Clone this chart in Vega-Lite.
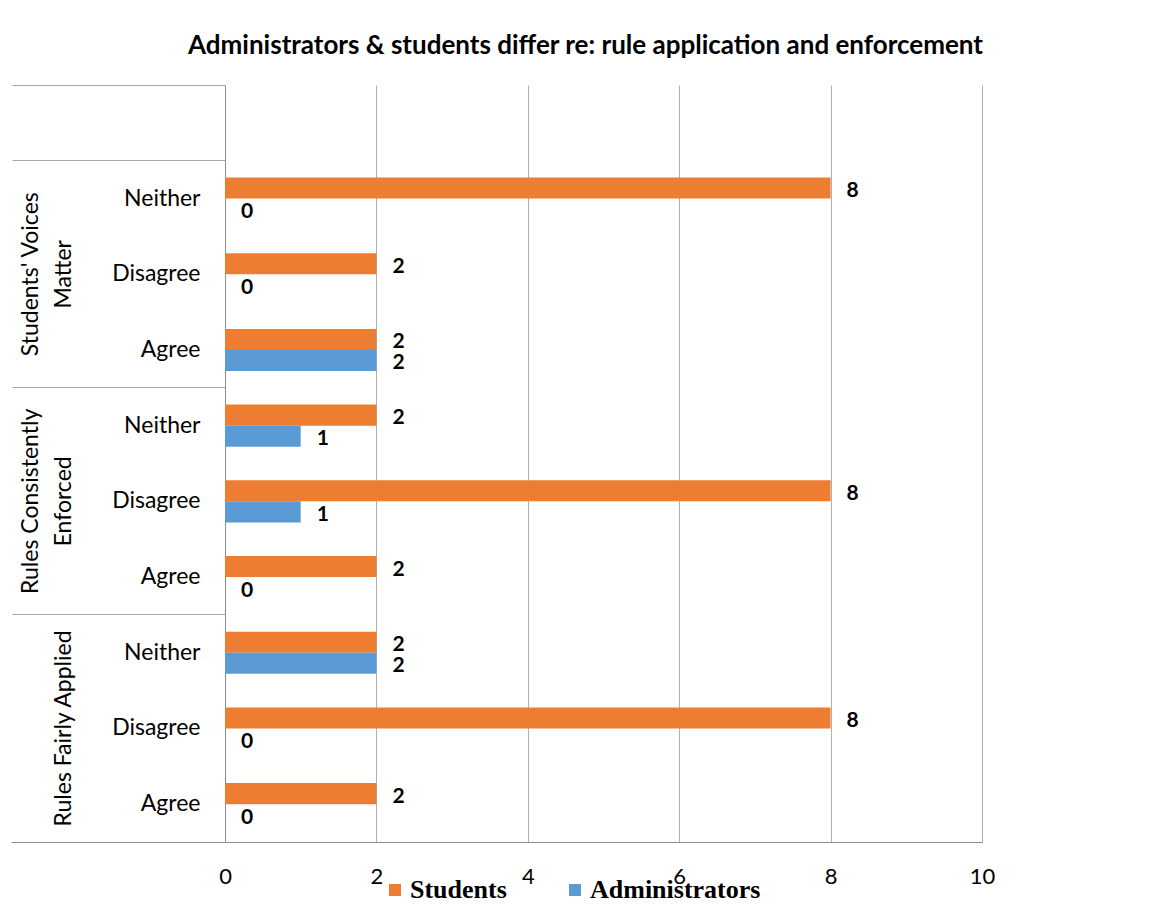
{
  "$schema": "https://vega.github.io/schema/vega-lite/v6.json",
  "autosize": {"type": "none"},
  "width": 757,
  "height": 757,
  "padding": {"left": 225, "top": 85, "right": 167, "bottom": 76},
  "background": "white",
  "title": {
    "text": "Administrators & students differ re: rule application and enforcement",
    "font": "Lato",
    "fontSize": 26,
    "fontWeight": "bold",
    "color": "black",
    "anchor": "middle",
    "frame": "group",
    "baseline": "alphabetic",
    "offset": 5,
    "dx": -18
  },
  "data": {
    "values": [
      {"row": "SVM|Neither", "group": "Students' Voices Matter", "response": "Neither", "series": "Students", "value": 8},
      {"row": "SVM|Neither", "group": "Students' Voices Matter", "response": "Neither", "series": "Administrators", "value": 0},
      {"row": "SVM|Disagree", "group": "Students' Voices Matter", "response": "Disagree", "series": "Students", "value": 2},
      {"row": "SVM|Disagree", "group": "Students' Voices Matter", "response": "Disagree", "series": "Administrators", "value": 0},
      {"row": "SVM|Agree", "group": "Students' Voices Matter", "response": "Agree", "series": "Students", "value": 2},
      {"row": "SVM|Agree", "group": "Students' Voices Matter", "response": "Agree", "series": "Administrators", "value": 2},
      {"row": "RCE|Neither", "group": "Rules Consistently Enforced", "response": "Neither", "series": "Students", "value": 2},
      {"row": "RCE|Neither", "group": "Rules Consistently Enforced", "response": "Neither", "series": "Administrators", "value": 1},
      {"row": "RCE|Disagree", "group": "Rules Consistently Enforced", "response": "Disagree", "series": "Students", "value": 8},
      {"row": "RCE|Disagree", "group": "Rules Consistently Enforced", "response": "Disagree", "series": "Administrators", "value": 1},
      {"row": "RCE|Agree", "group": "Rules Consistently Enforced", "response": "Agree", "series": "Students", "value": 2},
      {"row": "RCE|Agree", "group": "Rules Consistently Enforced", "response": "Agree", "series": "Administrators", "value": 0},
      {"row": "RFA|Neither", "group": "Rules Fairly Applied", "response": "Neither", "series": "Students", "value": 2},
      {"row": "RFA|Neither", "group": "Rules Fairly Applied", "response": "Neither", "series": "Administrators", "value": 2},
      {"row": "RFA|Disagree", "group": "Rules Fairly Applied", "response": "Disagree", "series": "Students", "value": 8},
      {"row": "RFA|Disagree", "group": "Rules Fairly Applied", "response": "Disagree", "series": "Administrators", "value": 0},
      {"row": "RFA|Agree", "group": "Rules Fairly Applied", "response": "Agree", "series": "Students", "value": 2},
      {"row": "RFA|Agree", "group": "Rules Fairly Applied", "response": "Agree", "series": "Administrators", "value": 0}
    ]
  },
  "config": {
    "view": {"stroke": null},
    "font": "Lato"
  },
  "resolve": {"axis": {"y": "independent"}},
  "layer": [
    {
      "mark": {"type": "bar"},
      "encoding": {
        "y": {
          "field": "row",
          "type": "nominal",
          "scale": {
            "domain": ["-", "SVM|Neither", "SVM|Disagree", "SVM|Agree", "RCE|Neither", "RCE|Disagree", "RCE|Agree", "RFA|Neither", "RFA|Disagree", "RFA|Agree"],
            "paddingInner": 0,
            "paddingOuter": 0
          },
          "axis": {
            "orient": "left",
            "title": null,
            "ticks": false,
            "tickSize": 0,
            "domain": true,
            "domainColor": "#8c8c8c",
            "domainWidth": 1,
            "labelExpr": "datum.value == '-' ? '' : split(datum.value, '|')[1]",
            "labelFont": "Lato",
            "labelFontSize": 23,
            "labelColor": "black",
            "labelPadding": 25,
            "labelAlign": "right",
            "labelBaseline": "middle"
          }
        },
        "yOffset": {
          "field": "series",
          "type": "nominal",
          "scale": {"domain": ["Students", "Administrators"], "paddingInner": 0, "paddingOuter": 0.8}
        },
        "x": {
          "field": "value",
          "type": "quantitative",
          "scale": {"domain": [0, 10], "nice": false},
          "axis": {
            "title": null,
            "values": [0, 2, 4, 6, 8, 10],
            "format": "d",
            "grid": true,
            "gridColor": "#b0b0b0",
            "gridWidth": 1,
            "ticks": false,
            "tickSize": 0,
            "domain": true,
            "domainColor": "#8c8c8c",
            "labelFont": "Lato",
            "labelFontSize": 22,
            "labelColor": "black",
            "labelBaseline": "middle",
            "labelPadding": 34,
            "labelFlush": false
          }
        },
        "color": {
          "field": "series",
          "type": "nominal",
          "scale": {"domain": ["Students", "Administrators"], "range": ["#ED7D31", "#5B9BD5"]},
          "legend": {
            "title": null,
            "orient": "none",
            "direction": "horizontal",
            "legendX": 157,
            "legendY": 792,
            "symbolType": "square",
            "symbolSize": 144,
            "symbolStrokeWidth": 0,
            "labelFont": "Liberation Serif",
            "labelFontSize": 26,
            "labelFontWeight": "bold",
            "labelColor": "black",
            "labelLimit": 0,
            "labelOffset": 2,
            "columnPadding": 55
          }
        }
      }
    },
    {
      "mark": {"type": "text", "align": "left", "baseline": "middle", "dx": 16, "dy": 3, "fontWeight": "bold", "fontSize": 21, "font": "Lato", "color": "black"},
      "encoding": {
        "y": {"field": "row", "type": "nominal", "axis": null},
        "yOffset": {"field": "series", "type": "nominal"},
        "x": {"field": "value", "type": "quantitative"},
        "text": {"field": "value", "type": "quantitative"}
      }
    },
    {
      "mark": {"type": "point", "opacity": 0},
      "encoding": {
        "y": {
          "field": "row",
          "type": "nominal",
          "axis": {
            "orient": "left",
            "title": null,
            "values": ["SVM|Disagree", "RCE|Disagree", "RFA|Disagree"],
            "labelExpr": "datum.value == 'SVM|Disagree' ? [\"Students' Voices\", 'Matter'] : datum.value == 'RCE|Disagree' ? ['Rules Consistently', 'Enforced'] : ['', 'Rules Fairly Applied']",
            "labelAngle": -90,
            "labelAlign": "center",
            "labelBaseline": "bottom",
            "labelLineHeight": 33,
            "labelPadding": 183,
            "labelFont": "Lato",
            "labelFontSize": 23,
            "labelColor": "black",
            "labelLimit": 0,
            "ticks": false,
            "tickSize": 0,
            "domain": false
          }
        }
      }
    },
    {
      "mark": {"type": "point", "opacity": 0},
      "encoding": {
        "y": {
          "field": "row",
          "type": "nominal",
          "axis": {
            "orient": "left",
            "title": null,
            "values": ["-", "SVM|Neither", "RCE|Neither", "RFA|Neither"],
            "bandPosition": 0,
            "labels": false,
            "domain": false,
            "ticks": true,
            "tickSize": 213,
            "tickColor": "#a6a6a6",
            "tickWidth": 1
          }
        }
      }
    },
    {
      "mark": {"type": "point", "opacity": 0},
      "encoding": {
        "y": {
          "field": "row",
          "type": "nominal",
          "axis": {
            "orient": "left",
            "title": null,
            "values": ["RFA|Agree"],
            "bandPosition": 1,
            "labels": false,
            "domain": false,
            "ticks": true,
            "tickSize": 214,
            "tickColor": "#8c8c8c",
            "tickWidth": 1
          }
        }
      }
    }
  ]
}
